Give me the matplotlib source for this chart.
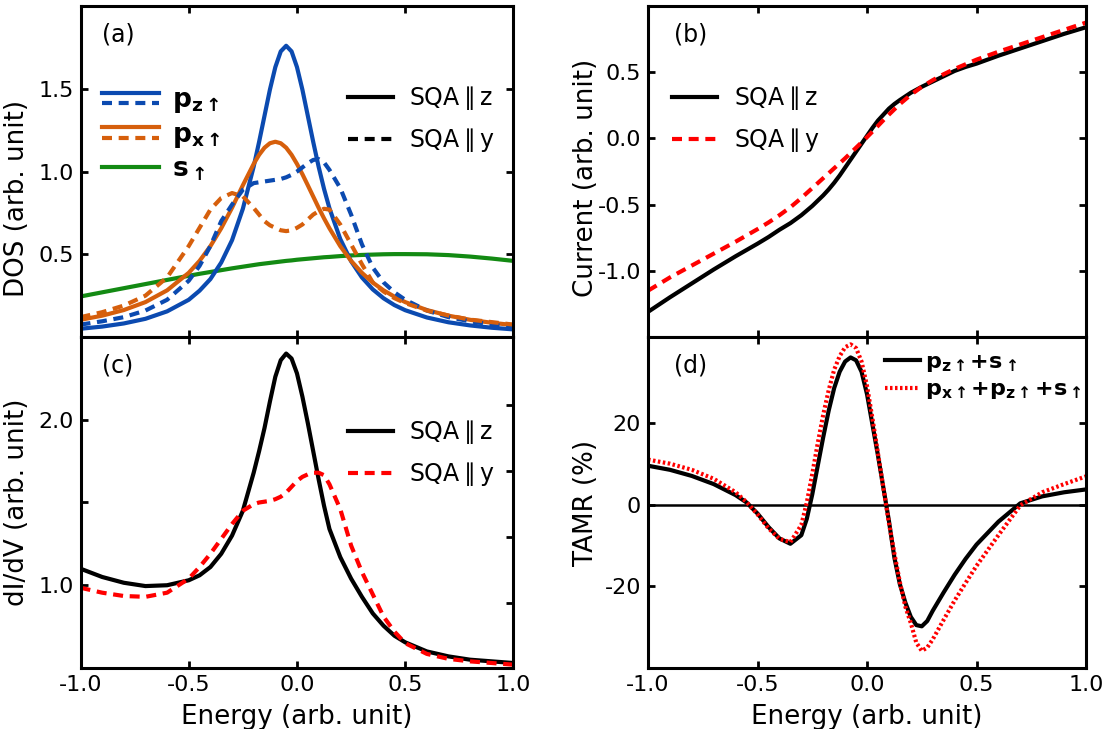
import matplotlib
matplotlib.use("Agg")
import matplotlib.pyplot as plt
from matplotlib.legend_handler import HandlerBase
from matplotlib.lines import Line2D

plt.rcParams['font.family'] = 'DejaVu Sans'
plt.rcParams['mathtext.fontset'] = 'dejavusans'
plt.rcParams['axes.unicode_minus'] = False

# energy grid shared by panels (a)-(c)
energy = [-1.0, -0.9, -0.8, -0.7, -0.6, -0.5, -0.45, -0.4, -0.35, -0.3,
          -0.25, -0.2, -0.175, -0.15, -0.125, -0.1, -0.075, -0.05, -0.025, 0.0,
          0.025, 0.05, 0.075, 0.1, 0.125, 0.15, 0.2, 0.25, 0.3, 0.35,
          0.4, 0.45, 0.5, 0.6, 0.7, 0.8, 0.9, 1.0]

# (a) orbital-resolved DOS
dos_pz_z = [0.05, 0.063, 0.082, 0.11, 0.155, 0.225, 0.28, 0.35, 0.45, 0.585,
            0.775, 1.03, 1.179, 1.337, 1.495, 1.631, 1.726, 1.76, 1.726, 1.631,
            1.495, 1.337, 1.179, 1.029, 0.895, 0.778, 0.592, 0.458, 0.36, 0.288,
            0.234, 0.193, 0.162, 0.118, 0.089, 0.07, 0.056, 0.046]
dos_pz_y = [0.075, 0.095, 0.12, 0.16, 0.225, 0.34, 0.43, 0.55, 0.70, 0.80,
            0.89, 0.93, 0.935, 0.94, 0.945, 0.95, 0.955, 0.965, 0.98, 1.0,
            1.025, 1.05, 1.07, 1.075, 1.055, 1.01, 0.90, 0.74, 0.56, 0.42,
            0.33, 0.27, 0.225, 0.16, 0.12, 0.095, 0.075, 0.06]
dos_px_z = [0.104, 0.129, 0.163, 0.211, 0.282, 0.388, 0.46, 0.549, 0.657, 0.781,
            0.917, 1.046, 1.101, 1.144, 1.171, 1.18, 1.171, 1.144, 1.101, 1.046,
            0.984, 0.917, 0.849, 0.781, 0.717, 0.657, 0.549, 0.46, 0.388, 0.329,
            0.282, 0.244, 0.211, 0.163, 0.129, 0.104, 0.086, 0.072]
dos_px_y = [0.12, 0.15, 0.19, 0.25, 0.36, 0.55, 0.66, 0.77, 0.84, 0.87,
            0.85, 0.78, 0.74, 0.70, 0.675, 0.66, 0.645, 0.64, 0.645, 0.66,
            0.68, 0.71, 0.74, 0.76, 0.775, 0.77, 0.68, 0.56, 0.44, 0.33,
            0.275, 0.235, 0.205, 0.16, 0.13, 0.105, 0.09, 0.075]
dos_s = [0.245, 0.27, 0.295, 0.32, 0.345, 0.37, 0.382, 0.393, 0.404, 0.415,
         0.425, 0.435, 0.44, 0.444, 0.448, 0.452, 0.456, 0.46, 0.463, 0.467,
         0.47, 0.473, 0.476, 0.479, 0.482, 0.484, 0.489, 0.493, 0.496, 0.498,
         0.5, 0.501, 0.501, 0.5, 0.495, 0.486, 0.474, 0.46]

# (b) tunnelling current
current_z = [-1.31, -1.20, -1.095, -0.99, -0.89, -0.795, -0.745, -0.69, -0.64, -0.58,
             -0.51, -0.43, -0.385, -0.335, -0.28, -0.22, -0.16, -0.10, -0.04, 0.02,
             0.08, 0.135, 0.18, 0.225, 0.26, 0.29, 0.345, 0.39, 0.43, 0.47,
             0.51, 0.54, 0.565, 0.625, 0.68, 0.735, 0.79, 0.84]
current_y = [-1.15, -1.05, -0.96, -0.87, -0.78, -0.685, -0.635, -0.58, -0.52, -0.45,
             -0.375, -0.30, -0.263, -0.225, -0.188, -0.15, -0.11, -0.07, -0.03, 0.01,
             0.052, 0.095, 0.138, 0.18, 0.22, 0.26, 0.33, 0.39, 0.44, 0.485,
             0.525, 0.56, 0.595, 0.655, 0.71, 0.765, 0.82, 0.875]

# (c) differential conductance
didv_z = [1.10, 1.05, 1.015, 0.995, 1.0, 1.03, 1.06, 1.11, 1.19, 1.30,
          1.45, 1.68, 1.81, 1.95, 2.11, 2.26, 2.36, 2.40, 2.37, 2.28,
          2.14, 1.98, 1.81, 1.64, 1.48, 1.34, 1.17, 1.04, 0.93, 0.83,
          0.755, 0.695, 0.655, 0.60, 0.57, 0.55, 0.54, 0.53]
didv_y = [0.985, 0.955, 0.935, 0.93, 0.955, 1.04, 1.11, 1.19, 1.28, 1.37,
          1.45, 1.49, 1.50, 1.505, 1.51, 1.52, 1.535, 1.56, 1.595, 1.63,
          1.655, 1.67, 1.68, 1.68, 1.665, 1.61, 1.46, 1.24, 1.08, 0.945,
          0.81, 0.72, 0.65, 0.585, 0.555, 0.54, 0.53, 0.52]

# (d) TAMR
energy_d = [-1.0, -0.9, -0.8, -0.7, -0.6, -0.55, -0.5, -0.45, -0.4, -0.35,
            -0.3, -0.275, -0.25, -0.225, -0.2, -0.175, -0.15, -0.125, -0.1, -0.075,
            -0.05, -0.025, 0.0, 0.025, 0.05, 0.075, 0.1, 0.125, 0.15, 0.175,
            0.2, 0.225, 0.25, 0.275, 0.3, 0.35, 0.4, 0.45, 0.5, 0.6,
            0.7, 0.8, 0.9, 1.0]
tamr_pz_s = [9.5, 8.5, 7.0, 5.0, 2.3, 0.5, -2.2, -5.5, -8.3, -9.6,
             -7.5, -3.5, 2.5, 9.5, 16.5, 23.0, 28.5, 32.5, 35.0, 36.0,
             35.3, 32.5, 27.0, 19.5, 12.0, 4.0, -4.0, -13.0, -19.5, -24.0,
             -27.5, -29.5, -29.8, -28.5, -26.0, -21.5, -17.2, -13.3, -9.8, -4.2,
             0.3, 2.0, 3.0, 3.7]
tamr_all = [11.0, 10.0, 8.5, 6.3, 3.0, 0.6, -2.4, -5.8, -8.4, -9.2,
            -5.0, 0.5, 7.5, 15.0, 22.0, 28.0, 33.0, 36.3, 38.5, 39.2,
            38.3, 35.0, 29.0, 21.0, 12.5, 4.0, -4.5, -12.0, -19.0, -25.0,
            -29.0, -33.8, -35.8, -35.0, -33.0, -28.2, -23.5, -19.2, -15.0, -7.5,
            -0.2, 3.0, 5.0, 6.9]

xticks = [-1.0, -0.5, 0.0, 0.5, 1.0]
xticklabels = ['-1.0', '-0.5', '0.0', '0.5', '1.0']

blue = '#0b4ab0'
orange = '#d65f0c'
green = '#138a13'
red = '#ff0000'
lw = 3.0
dash = (2.4, 1.6)
label_size = 18.8
sqa_z = r'SQA$\parallel$z'
sqa_y = r'SQA$\parallel$y'
sqa_legend = dict(loc='upper left', frameon=False, fontsize=17, handlelength=1.9,
                  handletextpad=0.7, labelspacing=0.6, borderpad=0, borderaxespad=0)


class HandlerStacked(HandlerBase):
    """Legend entry that shows a pair of lines one above the other."""

    def create_artists(self, legend, orig_handle, xdescent, ydescent,
                       width, height, fontsize, trans):
        out = []
        for src, frac in zip(orig_handle, (0.78, 0.22)):
            y = -ydescent + height * frac
            ln = Line2D([-xdescent, -xdescent + width], [y, y])
            ln.update_from(src)
            ln.set_transform(trans)
            out.append(ln)
        return out


fig = plt.figure(figsize=(11.15, 7.29), dpi=100)
ax_a = fig.add_axes([0.0722, 0.5377, 0.3883, 0.4540])
ax_b = fig.add_axes([0.5812, 0.5377, 0.3928, 0.4540])
ax_c = fig.add_axes([0.0722, 0.0837, 0.3883, 0.4540])
ax_d = fig.add_axes([0.5812, 0.0837, 0.3928, 0.4540])

for ax in (ax_a, ax_b, ax_c, ax_d):
    ax.set_xlim(-1, 1)
    ax.set_xticks(xticks)
    ax.set_xticklabels(xticklabels)
    ax.tick_params(direction='in', top=True, right=True, length=5, width=2,
                   labelsize=16, pad=5)
    for sp in ax.spines.values():
        sp.set_linewidth(2.2)
for ax in (ax_a, ax_b):
    ax.tick_params(labelbottom=False)

# (a)
ax_a.plot(energy, dos_s, color=green, lw=lw)
pz_z, = ax_a.plot(energy, dos_pz_z, color=blue, lw=lw)
px_z, = ax_a.plot(energy, dos_px_z, color=orange, lw=lw)
pz_y, = ax_a.plot(energy, dos_pz_y, color=blue, lw=lw, dashes=dash)
px_y, = ax_a.plot(energy, dos_px_y, color=orange, lw=lw, dashes=dash)
s_line = Line2D([], [], color=green, lw=lw)
ax_a.set_ylim(0.0, 2.0)
ax_a.set_yticks([0.5, 1.0, 1.5])
ax_a.set_ylabel('DOS (arb. unit)', fontsize=label_size)
ax_a.yaxis.set_label_coords(-0.117, 0.42)
ax_a.text(0.05, 0.95, '(a)', transform=ax_a.transAxes, fontsize=17, va='top')
leg1 = ax_a.legend([(pz_z, pz_y), (px_z, px_y), s_line],
                   [r'$\mathbf{p_{z\uparrow}}$', r'$\mathbf{p_{x\uparrow}}$',
                    r'$\mathbf{s_{\uparrow}}$'],
                   handler_map={tuple: HandlerStacked()},
                   loc='upper left', bbox_to_anchor=(0.05, 0.755), frameon=False,
                   fontsize=19, handlelength=2.15, handletextpad=0.5,
                   labelspacing=0.25, borderpad=0, borderaxespad=0)
ax_a.add_artist(leg1)
ax_a.legend([Line2D([], [], color='k', lw=lw), Line2D([], [], color='k', lw=lw, dashes=dash)],
            [sqa_z, sqa_y], bbox_to_anchor=(0.618, 0.765), **sqa_legend)

# (b)
ax_b.plot(energy, current_z, color='k', lw=lw, label=sqa_z)
ax_b.plot(energy, current_y, color=red, lw=lw, dashes=dash, label=sqa_y)
ax_b.set_ylim(-1.5, 1.0)
ax_b.set_yticks([-1.0, -0.5, 0.0, 0.5])
ax_b.set_ylabel('Current (arb. unit)', fontsize=label_size)
ax_b.yaxis.set_label_coords(-0.113, 0.48)
ax_b.text(0.06, 0.95, '(b)', transform=ax_b.transAxes, fontsize=17, va='top')
ax_b.legend(bbox_to_anchor=(0.055, 0.765), **sqa_legend)

# (c)
ax_c.plot(energy, didv_z, color='k', lw=lw, label=sqa_z)
ax_c.plot(energy, didv_y, color=red, lw=lw, dashes=dash, label=sqa_y)
ax_c.set_ylim(0.5, 2.5)
ax_c.set_yticks([1.0, 1.5, 2.0])
ax_c.set_yticklabels(['1.0', '', '2.0'])
ax_c.tick_params(right=False)
ax_c.set_ylabel('dI/dV (arb. unit)', fontsize=label_size)
ax_c.yaxis.set_label_coords(-0.117, 0.5)
ax_c.set_xlabel('Energy (arb. unit)', fontsize=label_size)
ax_c.xaxis.set_label_coords(0.5, -0.11)
ax_c.text(0.05, 0.95, '(c)', transform=ax_c.transAxes, fontsize=17, va='top')
ax_c.legend(bbox_to_anchor=(0.618, 0.755), **sqa_legend)
ax_c2 = ax_c.twinx()
ax_c2.set_ylim(0.5, 2.5)
ax_c2.set_yticks([0.89, 1.29, 1.69, 2.09])
ax_c2.tick_params(direction='in', length=5, width=2, labelright=False)

# (d)
ax_d.axhline(0, color='k', lw=1.8)
ax_d.plot(energy_d, tamr_pz_s, color='k', lw=lw,
          label=r'$\mathbf{p_{z\uparrow}{+}s_{\uparrow}}$')
ax_d.plot(energy_d, tamr_all, color=red, lw=lw, dashes=(0.6, 0.6),
          label=r'$\mathbf{p_{x\uparrow}{+}p_{z\uparrow}{+}s_{\uparrow}}$')
ax_d.set_ylim(-40, 41)
ax_d.set_yticks([-20, 0, 20])
ax_d.set_ylabel('TAMR (%)', fontsize=label_size)
ax_d.yaxis.set_label_coords(-0.113, 0.5)
ax_d.set_xlabel('Energy (arb. unit)', fontsize=label_size)
ax_d.xaxis.set_label_coords(0.5, -0.11)
ax_d.text(0.06, 0.95, '(d)', transform=ax_d.transAxes, fontsize=17, va='top')
ax_d.legend(loc='upper left', bbox_to_anchor=(0.54, 0.955), frameon=False,
            fontsize=16, handlelength=1.6, handletextpad=0.2, labelspacing=0.25,
            borderpad=0, borderaxespad=0)

fig.savefig('out.png', dpi=100)
